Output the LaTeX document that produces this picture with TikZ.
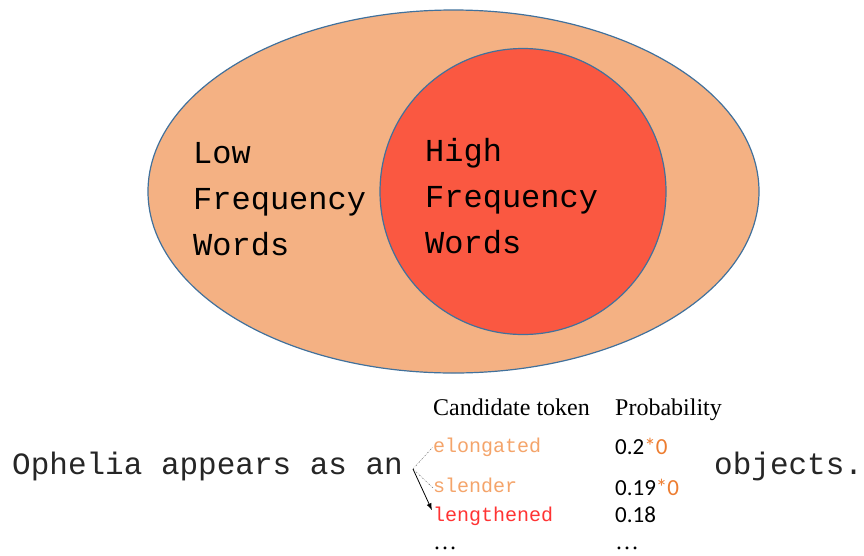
\documentclass[tikz,border=0pt]{standalone}
\usepackage{fontspec}
\setmainfont{Liberation Serif}
\newfontfamily\monofont{Liberation Mono}
\newfontfamily\calfont{Carlito}
\usetikzlibrary{arrows.meta}
\definecolor{lowfill}{HTML}{F4B183}
\definecolor{highfill}{HTML}{FA5841}
\definecolor{rimblue}{HTML}{41719C}
\definecolor{tokorange}{HTML}{F4A46A}
\definecolor{starorange}{HTML}{ED7D31}
\definecolor{tokred}{HTML}{FF3333}
\tikzset{
  setlabel/.style={anchor=base west, align=left, inner sep=0pt, font=\monofont\fontsize{32}{46}\selectfont},
  sentence/.style={anchor=base west, inner sep=0pt, font=\monofont\fontsize{31}{36}\selectfont, text=black!85},
  header/.style={anchor=base west, inner sep=0pt, font=\fontsize{24}{28}\selectfont},
  token/.style={anchor=base west, inner sep=0pt, font=\monofont\fontsize{20}{24}\selectfont},
  prob/.style={anchor=base west, inner sep=0pt, font=\calfont\fontsize{23}{26}\selectfont},
  more/.style={anchor=base west, inner sep=0pt, font=\fontsize{24}{28}\selectfont},
  altlink/.style={gray, line width=0.6pt, dash pattern=on 1.5pt off 1.2pt on 0.4pt off 1.2pt},
  chosenlink/.style={black, line width=0.8pt, -{Latex[length=7pt,width=5pt]}}
}
\begin{document}
\begin{tikzpicture}[x=1pt, y=-1pt]
  \useasboundingbox (0,0) rectangle (864,555);

  % word-frequency sets
  \draw[rimblue, line width=1.2pt, fill=lowfill] (453.5,191.5) ellipse [x radius=305.5, y radius=181.5];
  \draw[rimblue, line width=1.2pt, fill=highfill] (523,191.5) circle [radius=143];

  % three-line labels, placed by the baseline of their last line
  \node[setlabel] (low) at (193,255) {Low\\Frequency\\Words};
  \node[setlabel] (high) at (425,253) {High\\Frequency\\Words};

  % example sentence
  \node[sentence] (sent) at (12,474) {Ophelia appears as an};
  \node[sentence] (obj) at (714,474) {objects.};
  \coordinate (fork) at (413,469);

  % candidate table
  \node[header] (hcand) at (433,415) {Candidate token};
  \node[header] (hprob) at (615,415) {Probability};

  \node[token, text=tokorange] (t1) at (433,452) {elongated};
  \node[token, text=tokorange] (t2) at (433,492) {slender};
  \node[token, text=tokred] (t3) at (433,521) {lengthened};
  \node[more] (t4) at (433,549) {\ldots};

  \node[prob] (p1) at (615,454) {0.2\textcolor{starorange}{*0}};
  \node[prob] (p2) at (615,495) {0.19\textcolor{starorange}{*0}};
  \node[prob] (p3) at (615,522) {0.18};
  \node[more] (p4) at (615,549) {\ldots};

  % links from the gap to the candidates
  \draw[altlink] (fork) -- (t1.west);
  \draw[altlink] (fork) -- ([yshift=-3pt]t2.west);
  \draw[chosenlink] (fork) -- ([xshift=-1pt,yshift=-4pt]t3.north west);
\end{tikzpicture}
\end{document}
